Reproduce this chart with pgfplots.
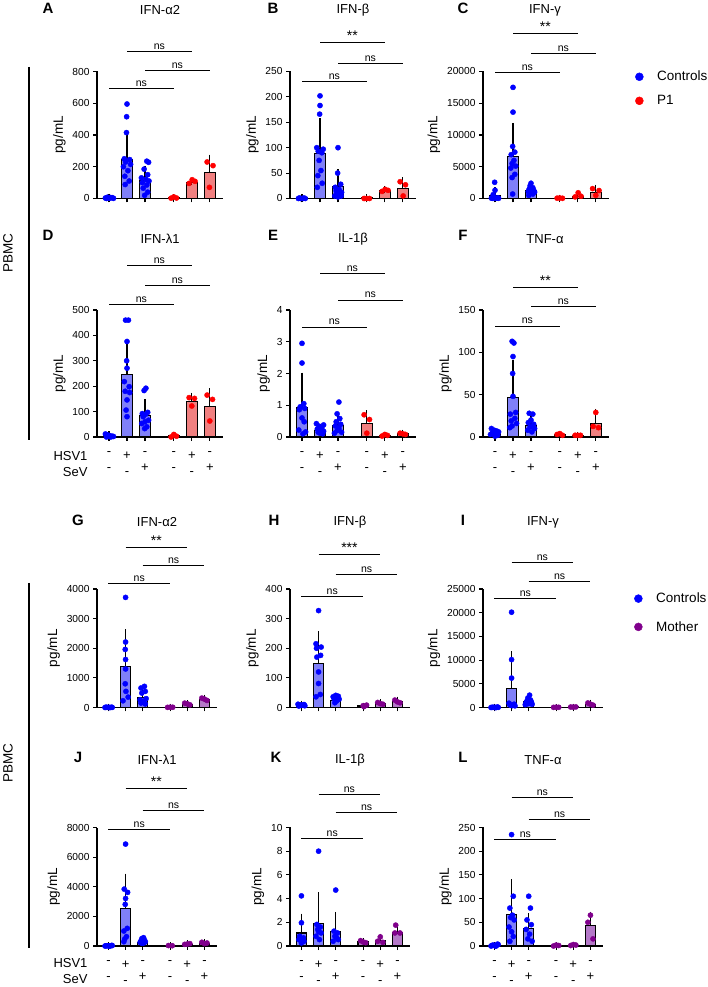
\documentclass[border=0pt]{standalone}
\usepackage{fontspec}
\setmainfont{Liberation Sans}
\usepackage{pgfplots}
\pgfplotsset{compat=1.18}

\definecolor{cpt}{RGB}{0,0,255}
\definecolor{cbar}{RGB}{128,128,248}
\definecolor{ppt}{RGB}{255,0,0}
\definecolor{pbar}{RGB}{240,128,128}
\definecolor{mpt}{RGB}{128,0,140}
\definecolor{mbar}{RGB}{180,120,200}

\newcommand{\tickfont}{\fontsize{10.2}{12}\selectfont}
\newcommand{\labfont}{\fontsize{13.5}{15}\selectfont}
\newcommand{\titfont}{\fontsize{13}{15}\selectfont}
\newcommand{\letfont}{\bfseries\fontsize{15}{17}\selectfont}
\newcommand{\sigfont}{\fontsize{10.5}{12}\selectfont}
\newcommand{\signfont}{\fontsize{13}{16}\selectfont}
\newcommand{\legfont}{\fontsize{13.5}{15}\selectfont}
\newcommand{\st}[1]{{\fontsize{14}{12}\selectfont\raisebox{-2pt}{#1}}}

% significance bracket: from x1 to x2 at relative height, with label
\newcommand{\sig}[4]{\draw[line width=0.9pt] ({axis cs:#1,0}|-{rel axis cs:0,#3}) -- node[above, inner sep=1.5pt, font=\sigfont]{#4} ({axis cs:#2,0}|-{rel axis cs:0,#3});}

\pgfplotsset{
  panel/.style={
    anchor=south west, scale only axis, width=126pt, height=127pt,
    xmin=-0.667, xmax=6.333, ymin=0,
    axis x line*=bottom, axis y line*=left,
    axis line style={line width=1.2pt, -},
    tick style={line width=1.1pt, black},
    tick align=outside, major tick length=4pt,
    xtick={0,1,2,3.6,4.6,5.6}, xticklabels={,,,,,},
    yticklabel style={font=\tickfont, /pgf/number format/1000 sep={}},
    /pgf/number format/assume math mode=true,
    scaled y ticks=false,
    ylabel={pg/mL}, ylabel style={font=\labfont},
    clip=false,
  },
  low/.style={width=120pt, height=118.5pt},
  signs/.style={xticklabels={{-\\-},{+\\-},{-\\+},{-\\-},{+\\-},{-\\+}},
    xticklabel style={align=center, font=\signfont, yshift=-7pt}},
  bar/.style={ybar, bar width=0.6, bar shift=0pt, draw=black, line width=1.1pt, forget plot,
    error bars/y dir=plus, error bars/y explicit,
    error bars/error bar style={line width=1.1pt, black},
    error bars/error mark options={black, line width=1.1pt, mark size=3.5pt}},
  pts/.style={only marks, mark=*, mark size=2.6pt},
  leg/.style n args={2}{legend style={draw=none, fill=none, at={(#1)}, anchor=north west,
      font=\legfont, row sep=#2, inner sep=0pt},
    legend cell align=left,
    legend image code/.code={\draw[##1, mark size=4pt] plot coordinates {(0.15cm,0cm)}; \path (0cm,0cm) (0.7cm,0cm);}},
}

\begin{document}
\begin{tikzpicture}
\useasboundingbox (0pt,0pt) rectangle (708pt,987pt);

% ---------- row 1 ----------
\begin{axis}[panel, at={(97pt,788.5pt)}, ymax=800, ytick={0,200,400,600,800}]
\addplot[bar, fill=cbar] coordinates {(0,5) +- (0,4) (1,245) +- (0,160) (2,115) +- (0,68)};
\addplot[bar, fill=pbar] coordinates {(3.6,5) +- (0,0) (4.6,100) +- (0,8) (5.6,165) +- (0,90)};
\addplot[pts, cpt] coordinates {(-0.2,3)(-0.08,8)(0.05,2)(0.18,5)(-0.14,0)(0.1,6)(0.25,1)(0,4)
 (1,595)(0.98,515)(0.97,415)(0.85,250)(1.15,245)(0.92,230)(1.2,215)(0.8,200)(1.05,175)(0.88,140)(1.12,110)(0.9,88)
 (2.1,235)(2.2,228)(1.95,185)(2.15,150)(1.8,130)(2.05,120)(2.22,110)(1.85,100)(2.1,85)(1.9,65)(2.15,40)(1.98,20)};
\addplot[pts, ppt] coordinates {(3.45,2)(3.6,10)(3.75,3)(4.45,95)(4.62,118)(4.78,108)(5.45,230)(5.78,207)(5.58,70)};
\sig{0}{3.6}{0.866}{ns}
\sig{2}{5.6}{1.008}{ns}
\sig{1}{4.6}{1.157}{ns}
\end{axis}

\begin{axis}[panel, at={(290pt,788.5pt)}, ymax=250, ytick={0,50,100,150,200,250}]
\addplot[bar, fill=cbar] coordinates {(0,1) +- (0,0.5) (1,89) +- (0,63) (2,24) +- (0,27)};
\addplot[bar, fill=pbar] coordinates {(3.6,1) +- (0,0) (4.6,15) +- (0,3) (5.6,20) +- (0,15)};
\addplot[pts, cpt] coordinates {(-0.2,0)(-0.08,0)(0.05,0)(0.18,0)(0.1,1)(-0.14,1)
 (1,202)(1,183)(0.98,166)(0.82,100)(1.18,97)(0.9,93)(1.1,90)(0.95,75)(1.05,55)(0.88,45)(1.12,30)(0.85,22)
 (2,100)(1.98,50)(2.15,28)(1.85,22)(2.05,18)(1.9,15)(2.2,12)(1.95,10)(2.1,8)(1.82,5)(2.18,5)(2,3)};
\addplot[pts, ppt] coordinates {(3.45,0)(3.6,0)(3.75,0)(4.45,14)(4.62,18)(4.78,16)(5.45,33)(5.75,27)(5.62,5)};
\sig{0}{3.6}{0.921}{ns}
\sig{2}{5.6}{1.063}{ns}
\sig{1}{4.6}{1.228}{\st{**}}
\end{axis}

\begin{axis}[panel, at={(483pt,788.5pt)}, ymax=20000, ytick={0,5000,10000,15000,20000}, leg={1.204,1.02}{9pt}]
\addplot[bar, fill=cbar] coordinates {(0,450) +- (0,800) (1,6550) +- (0,4800) (2,1300) +- (0,600)};
\addplot[bar, fill=pbar] coordinates {(3.6,50) +- (0,0) (4.6,250) +- (0,300) (5.6,1000) +- (0,650)};
\addplot[pts, cpt] coordinates {(-0.02,2550)(0,1300)(-0.1,600)(0.15,100)(-0.2,50)(0.2,30)(0.05,20)(-0.12,10)
 (1,17500)(1,13600)(0.98,8200)(1.1,7300)(0.9,6900)(1.05,6000)(0.95,5500)(1.15,5100)(0.88,4800)(1.1,3800)(0.95,3300)(0.98,700)
 (2,2400)(1.95,2000)(2.1,1700)(1.9,1500)(2.15,1300)(2.05,1200)(1.85,1100)(2.2,1000)(1.95,900)(2.1,700)(1.88,500)};
\addlegendentry{Controls}
\addplot[pts, ppt] coordinates {(3.45,50)(3.6,80)(3.75,30)(4.45,250)(4.62,900)(4.78,350)(5.42,1550)(5.78,1250)(5.6,500)};
\addlegendentry{P1}
\sig{0}{3.6}{0.992}{ns}
\sig{2}{5.6}{1.142}{ns}
\sig{1}{4.6}{1.299}{\st{**}}
\end{axis}

% ---------- row 2 ----------
\begin{axis}[panel, signs, at={(97pt,550pt)}, ymax=500, ytick={0,100,200,300,400,500}]
\addplot[bar, fill=cbar] coordinates {(0,5) +- (0,4) (1,247) +- (0,126) (2,86) +- (0,50)};
\addplot[bar, fill=pbar] coordinates {(3.6,4) +- (0,0) (4.6,139) +- (0,22) (5.6,119) +- (0,60)};
\addplot[pts, cpt] coordinates {(-0.2,12)(-0.08,8)(0.05,5)(0.18,3)(-0.14,0)(0.1,0)(0.25,2)(0,6)
 (0.92,460)(1.08,460)(1,376)(0.98,300)(1,271)(0.85,218)(1.12,198)(0.9,180)(1.15,175)(1,146)(0.95,106)(1,80)
 (2.05,192)(1.95,183)(2.15,97)(1.85,92)(2.05,90)(1.9,80)(2.2,66)(2,60)(1.82,53)(2.1,40)(1.98,33)};
\addplot[pts, ppt] coordinates {(3.45,0)(3.6,10)(3.75,3)(4.45,155)(4.75,152)(4.6,122)(5.45,165)(5.75,148)(5.6,63)};
\sig{0}{3.6}{1.04}{ns}
\sig{2}{5.6}{1.19}{ns}
\sig{1}{4.6}{1.35}{ns}
\end{axis}

\begin{axis}[panel, signs, at={(290pt,550pt)}, ymax=4, ytick={0,1,2,3,4}]
\addplot[bar, fill=cbar] coordinates {(0,0.94) +- (0,0.98) (1,0.21) +- (0,0.1) (2,0.37) +- (0,0.3)};
\addplot[bar, fill=pbar] coordinates {(3.6,0.42) +- (0,0.31) (4.6,0.05) +- (0,0) (5.6,0.1) +- (0,0.02)};
\addplot[pts, cpt] coordinates {(0,2.95)(0,2.33)(0.1,1.05)(-0.1,0.95)(0.15,0.9)(-0.15,0.86)(0,0.6)(0.12,0.48)(-0.18,0.22)(0.2,0.16)(0.05,0.1)
 (0.8,0.42)(1.2,0.38)(0.95,0.34)(1.1,0.28)(0.85,0.25)(1.05,0.2)(1.2,0.18)(0.9,0.15)(1,0.12)(1.15,0.1)
 (2.05,1.1)(1.95,0.73)(2.1,0.58)(1.9,0.48)(2.15,0.4)(1.85,0.35)(2.05,0.28)(1.95,0.2)(2.2,0.15)(1.8,0.12)};
\addplot[pts, ppt] coordinates {(3.45,0.7)(3.75,0.55)(3.6,0.12)(4.45,0.03)(4.6,0.08)(4.75,0.05)(5.45,0.12)(5.6,0.1)(5.75,0.08)};
\sig{0}{3.6}{0.866}{ns}
\sig{2}{5.6}{1.079}{ns}
\sig{1}{4.6}{1.29}{ns}
\end{axis}

\begin{axis}[panel, signs, at={(483pt,550pt)}, ymax=150, ytick={0,50,100,150}]
\addplot[bar, fill=cbar] coordinates {(0,5) +- (0,2) (1,47) +- (0,40) (2,14) +- (0,8)};
\addplot[bar, fill=pbar] coordinates {(3.6,3) +- (0,0) (4.6,2) +- (0,0) (5.6,16) +- (0,13)};
\addplot[pts, cpt] coordinates {(-0.2,10)(-0.05,8)(0.1,7)(0.2,6)(-0.15,5)(0.05,4)(-0.25,3)(0.15,2)(0,1)
 (0.95,113)(1.05,111)(1,95)(0.98,75)(1,48)(1.15,29)(0.85,27)(1.1,22)(0.9,19)(1.2,16)(0.95,13)(0.82,11)
 (1.9,28)(2.1,27)(2,20)(1.85,17)(2.15,15)(1.95,12)(2.2,10)(1.82,8)(2.05,6)};
\addplot[pts, ppt] coordinates {(3.45,3)(3.6,4)(3.75,2)(4.45,2)(4.6,2)(4.75,2)(5.6,29)(5.45,12.5)(5.75,11)};
\sig{0}{3.6}{0.874}{ns}
\sig{2}{5.6}{1.024}{ns}
\sig{1}{4.6}{1.181}{\st{**}}
\end{axis}

% ---------- row 3 ----------
\begin{axis}[panel, low, at={(97pt,279.5pt)}, ymax=4000, ytick={0,1000,2000,3000,4000}]
\addplot[bar, fill=cbar] coordinates {(0,10) +- (0,5) (1,1393) +- (0,1130) (2,350) +- (0,230)};
\addplot[bar, fill=mbar] coordinates {(3.6,10) +- (0,0) (4.6,110) +- (0,20) (5.6,260) +- (0,57)};
\addplot[pts, cpt] coordinates {(-0.2,0)(-0.08,5)(0.05,0)(0.18,8)(-0.14,10)(0.1,0)(0.22,3)(0,2)
 (1,3716)(1,2210)(0.98,1960)(1,1620)(1,1300)(0.98,800)(1.02,544)(1.15,350)(0.85,227)
 (2.1,714)(1.9,657)(2.15,544)(1.95,487)(2.2,300)(1.85,260)(2.05,204)(1.9,150)(2.15,120)};
\addplot[pts, mpt] coordinates {(3.45,5)(3.6,10)(3.75,8)(4.45,147)(4.6,125)(4.75,90)(5.45,317)(5.6,283)(5.75,238)};
\sig{0}{3.6}{1.05}{ns}
\sig{2}{5.6}{1.195}{ns}
\sig{1}{4.6}{1.347}{\st{**}}
\end{axis}

\begin{axis}[panel, low, at={(290pt,279.5pt)}, ymax=400, ytick={0,100,200,300,400}]
\addplot[bar, fill=cbar] coordinates {(0,8) +- (0,3) (1,150) +- (0,95) (2,25) +- (0,10)};
\addplot[bar, fill=mbar] coordinates {(3.6,5) +- (0,0) (4.6,13) +- (0,3) (5.6,20) +- (0,5)};
\addplot[pts, cpt] coordinates {(-0.2,11)(-0.1,9)(0,8)(0.1,7)(0.2,6)(-0.15,5)(0.15,10)
 (1,327)(0.85,215)(1.15,204)(0.88,200)(1.12,176)(0.9,170)(1,120)(1,81)(1.1,44)(0.85,36)
 (2,41)(2.15,38)(1.85,36)(2.1,33)(1.9,30)(2.2,28)(2.05,22)(1.95,16)};
\addplot[pts, mpt] coordinates {(3.6,6)(3.8,8)(3.65,3)(4.45,17)(4.6,13)(4.75,11)(5.45,25)(5.6,19)(5.75,16)};
\sig{0}{3.6}{0.94}{ns}
\sig{2}{5.6}{1.12}{ns}
\sig{1}{4.6}{1.29}{\st{***}}
\end{axis}

\begin{axis}[panel, low, at={(483pt,279.5pt)}, ymax=25000, ytick={0,5000,10000,15000,20000,25000}, leg={1.256,0.985}{13pt}]
\addplot[bar, fill=cbar] coordinates {(0,100) +- (0,0) (1,4100) +- (0,7050) (2,1200) +- (0,600)};
\addplot[bar, fill=mbar] coordinates {(3.6,50) +- (0,0) (4.6,100) +- (0,0) (5.6,700) +- (0,200)};
\addplot[pts, cpt] coordinates {(-0.2,0)(-0.08,50)(0.05,0)(0.18,100)(-0.14,20)(0.1,0)(0.22,30)(0,10)
 (1,20100)(1,10100)(1,6200)(0.85,900)(1.15,700)(0.9,600)(1.1,500)(0.95,450)(1.05,400)(1.2,350)
 (2.05,2600)(1.95,2000)(2.1,1600)(1.9,1400)(2.15,1200)(1.85,1100)(2.05,900)(1.95,800)(2.2,700)(1.8,600)};
\addlegendentry{Controls}
\addplot[pts, mpt] coordinates {(3.45,30)(3.6,60)(3.75,40)(4.45,100)(4.6,80)(4.75,120)(5.45,950)(5.6,700)(5.75,500)};
\addlegendentry{Mother}
\sig{0}{3.6}{0.92}{ns}
\sig{2}{5.6}{1.06}{ns}
\sig{1}{4.6}{1.22}{ns}
\end{axis}

% ---------- row 4 ----------
\begin{axis}[panel, low, signs, at={(97pt,41pt)}, ymax=8000, ytick={0,2000,4000,6000,8000}]
\addplot[bar, fill=cbar] coordinates {(0,20) +- (0,0) (1,2540) +- (0,2110) (2,250) +- (0,120)};
\addplot[bar, fill=mbar] coordinates {(3.6,10) +- (0,0) (4.6,130) +- (0,20) (5.6,180) +- (0,40)};
\addplot[pts, cpt] coordinates {(-0.2,0)(-0.08,20)(0.05,0)(0.18,40)(-0.14,10)(0.1,0)(0.22,30)(0,10)
 (1,6880)(0.92,3840)(1.12,3620)(1,3210)(0.98,2810)(1.1,1190)(0.9,1010)(1.05,630)(0.95,470)(0.9,290)
 (2.05,560)(1.95,500)(2.1,400)(1.9,350)(2.15,290)(1.85,250)(2.05,200)(1.95,180)};
\addplot[pts, mpt] coordinates {(3.5,30)(3.72,20)(4.45,110)(4.6,130)(4.75,160)(5.45,250)(5.6,160)(5.75,200)};
\sig{0}{3.6}{0.98}{ns}
\sig{2}{5.6}{1.14}{ns}
\sig{1}{4.6}{1.33}{\st{**}}
\end{axis}

\begin{axis}[panel, low, signs, at={(290pt,41pt)}, ymax=10, ytick={0,2,4,6,8,10}]
\addplot[bar, fill=cbar] coordinates {(0,1.1) +- (0,1.34) (1,1.9) +- (0,2.36) (2,1.19) +- (0,1.39)};
\addplot[bar, fill=mbar] coordinates {(3.6,0.34) +- (0,0) (4.6,0.45) +- (0,0.29) (5.6,1.1) +- (0,0.49)};
\addplot[pts, cpt] coordinates {(0,4.23)(0,1.96)(-0.1,0.82)(0.12,0.68)(-0.15,0.54)(0.15,0.4)(0,0.26)(0.08,0.5)(-0.05,0.6)
 (1,8)(0.9,1.82)(1.1,1.6)(0.95,1.4)(1.15,1.1)(0.85,0.82)(1.05,0.54)(1,1.2)
 (2,4.72)(1.9,1.25)(2.1,1.1)(1.95,0.82)(2.15,0.54)(1.85,0.4)(2.05,0.7)};
\addplot[pts, mpt] coordinates {(3.45,0.45)(3.6,0.34)(3.75,0.28)(4.6,0.77)(4.45,0.4)(4.75,0.31)(5.5,1.76)(5.45,1.1)(5.75,1.1)};
\sig{0}{3.6}{0.91}{ns}
\sig{2}{5.6}{1.13}{ns}
\sig{1}{4.6}{1.28}{ns}
\end{axis}

\begin{axis}[panel, low, signs, at={(483pt,41pt)}, ymax=250, ytick={0,50,100,150,200,250}]
\addplot[bar, fill=cbar] coordinates {(0,1.5) +- (0,0) (1,66) +- (0,67) (2,37) +- (0,25)};
\addplot[bar, fill=mbar] coordinates {(3.6,1) +- (0,0) (4.6,2) +- (0,0) (5.6,43) +- (0,22)};
\addplot[pts, cpt] coordinates {(-0.2,0)(-0.08,2)(0.05,0)(0.18,4)(-0.14,1)(0.1,0)(0.22,3)(0,1)
 (1,235)(1.1,105)(0.9,80)(1.05,65)(0.95,60)(1.15,55)(0.85,40)(1,30)(1.1,20)(0.9,10)
 (2,105)(2.1,80)(1.9,55)(2.15,45)(1.85,35)(2.05,25)(1.95,15)(2.2,10)};
\addplot[pts, mpt] coordinates {(3.45,0)(3.6,2)(3.75,1)(4.45,1)(4.6,3)(4.75,2)(5.6,65)(5.45,50)(5.75,15)};
\sig{0}{3.6}{0.90}{ns}
\sig{2}{5.6}{1.07}{ns}
\sig{1}{4.6}{1.25}{ns}
\end{axis}

% ---------- titles, letters, side labels ----------
\node[font=\titfont] at (160pt,977pt) {IFN-α2};
\node[font=\titfont] at (353pt,977pt) {IFN-β};
\node[font=\titfont] at (545pt,977pt) {IFN-γ};
\node[font=\titfont] at (160pt,748pt) {IFN-λ1};
\node[font=\titfont] at (353pt,748pt) {IL-1β};
\node[font=\titfont] at (545pt,748pt) {TNF-α};
\node[font=\titfont] at (157pt,465pt) {IFN-α2};
\node[font=\titfont] at (350pt,465pt) {IFN-β};
\node[font=\titfont] at (543pt,465pt) {IFN-γ};
\node[font=\titfont] at (157pt,227pt) {IFN-λ1};
\node[font=\titfont] at (350pt,227pt) {IL-1β};
\node[font=\titfont] at (543pt,227pt) {TNF-α};

\node[font=\letfont] at (48pt,979pt) {A};
\node[font=\letfont] at (273pt,979pt) {B};
\node[font=\letfont] at (463pt,979pt) {C};
\node[font=\letfont] at (48pt,752pt) {D};
\node[font=\letfont] at (273pt,752pt) {E};
\node[font=\letfont] at (463pt,752pt) {F};
\node[font=\letfont] at (78pt,467pt) {G};
\node[font=\letfont] at (274pt,467pt) {H};
\node[font=\letfont] at (463pt,467pt) {I};
\node[font=\letfont] at (78pt,230pt) {J};
\node[font=\letfont] at (276pt,230pt) {K};
\node[font=\letfont] at (463pt,230pt) {L};

\node[anchor=east, font=\signfont] at (91pt,531pt) {HSV1};
\node[anchor=east, font=\signfont] at (91pt,515pt) {SeV};
\node[anchor=east, font=\signfont] at (91pt,24pt) {HSV1};
\node[anchor=east, font=\signfont] at (91pt,8pt) {SeV};

\draw[line width=1.3pt] (29pt,920pt) -- (29pt,547pt);
\node[rotate=90, font=\labfont] at (8pt,734pt) {PBMC};
\draw[line width=1.3pt] (29pt,404pt) -- (29pt,39pt);
\node[rotate=90, font=\labfont] at (8pt,224pt) {PBMC};
\end{tikzpicture}
\end{document}
